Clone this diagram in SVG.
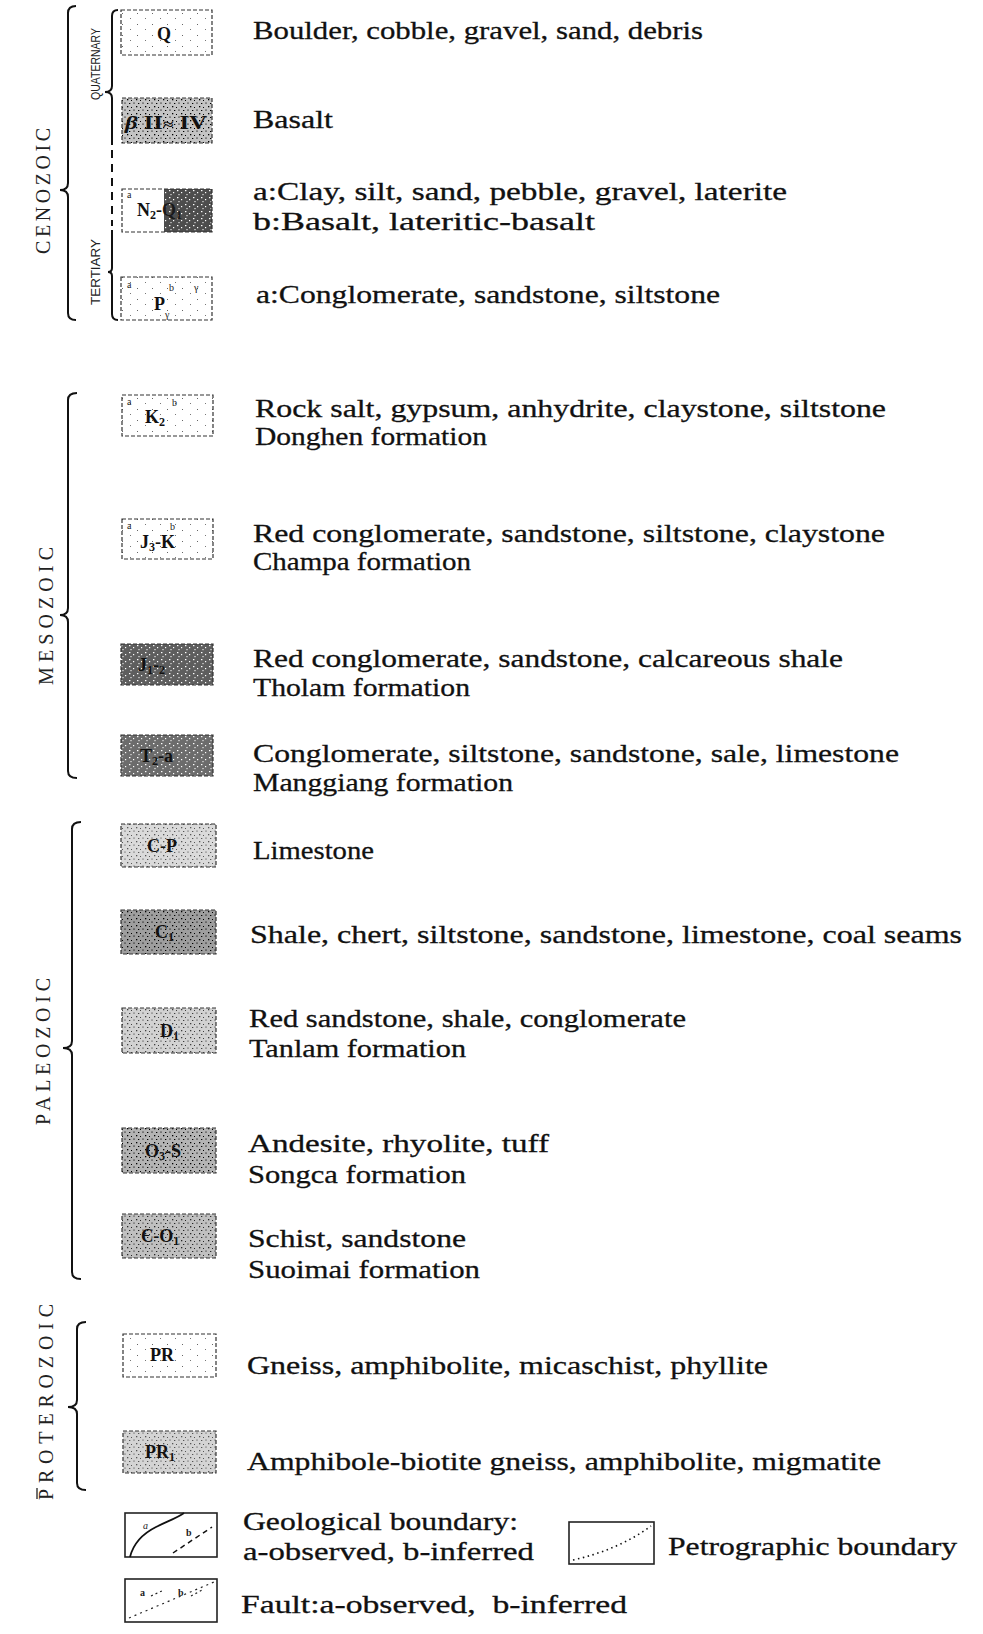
<svg xmlns="http://www.w3.org/2000/svg" width="983" height="1634" viewBox="0 0 983 1634">
<style>
.t{font-family:"Liberation Serif",serif;font-size:26px;fill:#111;stroke:#111;stroke-width:0.3}
.era{font-family:"Liberation Serif",serif;font-size:20px;fill:#222}
.sub{font-family:"Liberation Sans",sans-serif;font-size:12px;fill:#222}
.lab{font-family:"Liberation Serif",serif;font-weight:bold;font-size:18px;fill:#111}
.sm{font-family:"Liberation Serif",serif;font-size:10px;fill:#222}
.bx{fill:none;stroke:#333;stroke-width:1.2;stroke-dasharray:4 2}
.bs{fill:none;stroke:#222;stroke-width:1.6}
.br{fill:none;stroke:#111;stroke-width:2}
</style>
<defs>
<pattern id="dots" width="9" height="7" patternUnits="userSpaceOnUse">
<rect x="1" y="1" width="1.3" height="1.3" fill="#000"/>
<rect x="5" y="2" width="1" height="1" fill="#000"/>
<rect x="3" y="5" width="1.3" height="1" fill="#000"/>
<rect x="7.5" y="4.5" width="1" height="1.2" fill="#000"/>
</pattern>
<pattern id="wdots" width="8" height="7" patternUnits="userSpaceOnUse">
<rect x="1" y="1" width="1.4" height="1.2" fill="#fff"/>
<rect x="5" y="3" width="1.2" height="1.2" fill="#fff"/>
<rect x="2.5" y="5" width="1" height="1.2" fill="#fff"/>
</pattern>
<pattern id="sparse" width="15" height="11" patternUnits="userSpaceOnUse">
<rect x="2" y="2" width="1" height="1" fill="#666"/>
<rect x="10" y="7" width="1" height="1" fill="#777"/>
</pattern>
</defs>

<g id="braces">
<path class="br" d="M76,6 Q68,6 68,13 L68,183 Q68,190 60,190 Q68,190 68,197 L68,313 Q68,320 76,320"/>
<path class="br" d="M118,10 Q112,10 112,16 L112,86 Q112,92 105,92 Q112,92 112,98 L112,145"/>
<path class="br" d="M112,150 L112,226" stroke-dasharray="8 6"/>
<path class="br" d="M112,230 L112,268 Q112,272 108,272 Q112,272 112,276 L112,314 Q112,320 118,320"/>
<path class="br" d="M77,393 Q68,393 68,400 L68,608 Q68,615 60,615 Q68,615 68,622 L68,771 Q68,778 77,778"/>
<path class="br" d="M81,822 Q72,822 72,829 L72,1041 Q72,1048 63,1048 Q72,1048 72,1055 L72,1272 Q72,1279 81,1279"/>
<path class="br" d="M86,1322 Q77,1322 77,1329 L77,1400 Q77,1407 68,1407 Q77,1407 77,1414 L77,1483 Q77,1490 86,1490"/>
</g>

<g id="era-labels">
<text class="era" transform="translate(50,254) rotate(-90)" textLength="126" lengthAdjust="spacing">CENOZOIC</text>
<text class="sub" transform="translate(100,100) rotate(-90)" textLength="72" lengthAdjust="spacingAndGlyphs">QUATERNARY</text>
<text class="sub" transform="translate(100,305) rotate(-90)" textLength="66" lengthAdjust="spacingAndGlyphs">TERTIARY</text>
<text class="era" transform="translate(53,685) rotate(-90)" textLength="138" lengthAdjust="spacing">MESOZOIC</text>
<text class="era" transform="translate(50,1125) rotate(-90)" textLength="147" lengthAdjust="spacing">PALEOZOIC</text>
<text class="era" transform="translate(53,1500) rotate(-90)" textLength="196" lengthAdjust="spacing">PROTEROZOIC</text>
<path d="M37,1488 L37,1499" stroke="#222" stroke-width="1.3"/>
</g>

<g id="n-q">
<rect x="121" y="10" width="91" height="45" fill="url(#sparse)"/>
<rect class="bx" x="121" y="10" width="91" height="45"/>
<text class="lab" x="157" y="40" font-size="19">Q</text>
<text class="t" x="253" y="39" textLength="450" lengthAdjust="spacingAndGlyphs">Boulder, cobble, gravel, sand, debris</text>
</g>

<g id="n-basalt">
<rect x="122" y="98" width="90" height="45" fill="#c4c4c4"/>
<rect x="122" y="98" width="90" height="45" fill="url(#dots)"/>
<rect class="bx" x="122" y="98" width="90" height="45"/>
<text class="lab" x="125" y="129" font-size="19" textLength="82" lengthAdjust="spacingAndGlyphs"><tspan font-style="italic">β</tspan> II<tspan font-size="14">≈</tspan> IV</text>
<text class="t" x="253" y="128" textLength="80" lengthAdjust="spacingAndGlyphs">Basalt</text>
</g>

<g id="n-n2">
<rect x="164" y="189" width="48" height="43" fill="#4d4d4d"/>
<rect x="164" y="189" width="48" height="43" fill="url(#wdots)"/>
<rect class="bx" x="122" y="189" width="90" height="43"/>
<text class="sm" x="127" y="198">a</text>
<text class="lab" x="137" y="216">N<tspan font-size="12" dy="3">2</tspan><tspan dy="-3">-</tspan><tspan fill="#1a1a1a">Q<tspan font-size="12" dy="3">1</tspan></tspan></text>
<text class="t" x="253" y="200" textLength="534" lengthAdjust="spacingAndGlyphs">a:Clay, silt, sand, pebble, gravel, laterite</text>
<text class="t" x="253" y="230" textLength="342" lengthAdjust="spacingAndGlyphs">b:Basalt, lateritic-basalt</text>
</g>

<g id="n-p">
<rect x="121" y="277" width="91" height="43" fill="url(#sparse)"/>
<rect class="bx" x="121" y="277" width="91" height="43"/>
<text class="sm" x="127" y="288">a</text>
<text class="lab" x="154" y="310" font-weight="normal" font-size="21">P</text>
<text class="sm" x="169" y="291">b</text>
<text class="sm" x="194" y="291">γ</text>
<text class="sm" x="165" y="318">γ</text>
<text class="t" x="256" y="303" textLength="464" lengthAdjust="spacingAndGlyphs">a:Conglomerate, sandstone, siltstone</text>
</g>

<g id="n-k2">
<rect x="122" y="395" width="91" height="41" fill="url(#sparse)"/>
<rect class="bx" x="122" y="395" width="91" height="41" stroke="#777"/>
<text class="sm" x="127" y="405">a</text>
<text class="lab" x="145" y="423" font-size="17">K<tspan font-size="12" dy="3">2</tspan></text>
<text class="sm" x="172" y="406">b</text>
<text class="t" x="255" y="417" textLength="631" lengthAdjust="spacingAndGlyphs">Rock salt, gypsum, anhydrite, claystone, siltstone</text>
<text class="t" x="255" y="445" textLength="232" lengthAdjust="spacingAndGlyphs">Donghen formation</text>
</g>

<g id="n-j3k">
<rect x="122" y="519" width="91" height="40" fill="url(#sparse)"/>
<rect class="bx" x="122" y="519" width="91" height="40" stroke="#777"/>
<text class="sm" x="127" y="529">a</text>
<text class="lab" x="140" y="548" font-size="17">J<tspan font-size="12" dy="3">3</tspan><tspan dy="-3">-K</tspan></text>
<text class="sm" x="170" y="530">b</text>
<text class="t" x="253" y="542" textLength="632" lengthAdjust="spacingAndGlyphs">Red conglomerate, sandstone, siltstone, claystone</text>
<text class="t" x="253" y="570" textLength="218" lengthAdjust="spacingAndGlyphs">Champa formation</text>
</g>

<g id="n-j12">
<rect x="121" y="644" width="92" height="41" fill="#5e5e5e"/>
<rect x="121" y="644" width="92" height="41" fill="url(#wdots)"/>
<rect class="bx" x="121" y="644" width="92" height="41"/>
<text class="lab" x="138" y="671" fill="#151515" font-size="17">J<tspan font-size="12" dy="3">1</tspan><tspan dy="-3">-</tspan><tspan font-size="12" dy="3">2</tspan></text>
<text class="t" x="253" y="667" textLength="590" lengthAdjust="spacingAndGlyphs">Red conglomerate, sandstone, calcareous shale</text>
<text class="t" x="253" y="696" textLength="217" lengthAdjust="spacingAndGlyphs">Tholam formation</text>
</g>

<g id="n-t2">
<rect x="121" y="735" width="92" height="41" fill="#6c6c6c"/>
<rect x="121" y="735" width="92" height="41" fill="url(#wdots)"/>
<rect class="bx" x="121" y="735" width="92" height="41"/>
<text class="lab" x="140" y="762" fill="#151515" font-size="17">T<tspan font-size="12" dy="3">2</tspan><tspan dy="-3">-a</tspan></text>
<text class="t" x="253" y="762" textLength="646" lengthAdjust="spacingAndGlyphs">Conglomerate, siltstone, sandstone, sale, limestone</text>
<text class="t" x="253" y="791" textLength="260" lengthAdjust="spacingAndGlyphs">Manggiang formation</text>
</g>

<g id="n-cp">
<rect x="121" y="824" width="95" height="43" fill="#dadada"/>
<rect x="121" y="824" width="95" height="43" fill="url(#dots)" opacity="0.6"/>
<rect class="bx" x="121" y="824" width="95" height="43"/>
<text class="lab" x="147" y="852" font-size="17">C-P</text>
<text class="t" x="253" y="859" textLength="121" lengthAdjust="spacingAndGlyphs">Limestone</text>
</g>

<g id="n-c1">
<rect x="121" y="910" width="95" height="44" fill="#9e9e9e"/>
<rect x="121" y="910" width="95" height="44" fill="url(#dots)"/>
<rect class="bx" x="121" y="910" width="95" height="44"/>
<text class="lab" x="155" y="938" font-size="17">C<tspan font-size="12" dy="3">1</tspan></text>
<text class="t" x="250" y="943" textLength="712" lengthAdjust="spacingAndGlyphs">Shale, chert, siltstone, sandstone, limestone, coal seams</text>
</g>

<g id="n-d1">
<rect x="122" y="1008" width="94" height="45" fill="#d2d2d2"/>
<rect x="122" y="1008" width="94" height="45" fill="url(#dots)" opacity="0.7"/>
<rect class="bx" x="122" y="1008" width="94" height="45"/>
<text class="lab" x="160" y="1037" font-size="17">D<tspan font-size="12" dy="3">1</tspan></text>
<text class="t" x="249" y="1027" textLength="437" lengthAdjust="spacingAndGlyphs">Red sandstone, shale, conglomerate</text>
<text class="t" x="249" y="1057" textLength="217" lengthAdjust="spacingAndGlyphs">Tanlam formation</text>
</g>

<g id="n-o3s">
<rect x="122" y="1128" width="94" height="45" fill="#b4b4b4"/>
<rect x="122" y="1128" width="94" height="45" fill="url(#dots)"/>
<rect class="bx" x="122" y="1128" width="94" height="45"/>
<text class="lab" x="145" y="1157" font-size="17">O<tspan font-size="12" dy="3">3</tspan><tspan dy="-3">-S</tspan></text>
<text class="t" x="248" y="1152" textLength="301" lengthAdjust="spacingAndGlyphs">Andesite, rhyolite, tuff</text>
<text class="t" x="248" y="1183" textLength="218" lengthAdjust="spacingAndGlyphs">Songca formation</text>
</g>

<g id="n-eo1">
<rect x="122" y="1214" width="94" height="44" fill="#c0c0c0"/>
<rect x="122" y="1214" width="94" height="44" fill="url(#dots)" opacity="0.8"/>
<rect class="bx" x="122" y="1214" width="94" height="44"/>
<text class="lab" x="141" y="1242" font-size="17">Є-O<tspan font-size="12" dy="3">1</tspan></text>
<text class="t" x="248" y="1247" textLength="218" lengthAdjust="spacingAndGlyphs">Schist, sandstone</text>
<text class="t" x="248" y="1278" textLength="232" lengthAdjust="spacingAndGlyphs">Suoimai formation</text>
</g>

<g id="n-pr">
<rect x="123" y="1334" width="93" height="43" fill="url(#sparse)"/>
<rect class="bx" x="123" y="1334" width="93" height="43"/>
<text class="lab" x="150" y="1361" font-size="17" font-weight="normal">PR</text>
<text class="t" x="247" y="1374" textLength="521" lengthAdjust="spacingAndGlyphs">Gneiss, amphibolite, micaschist, phyllite</text>
</g>

<g id="n-pr1">
<rect x="123" y="1431" width="93" height="42" fill="#d4d4d4"/>
<rect x="123" y="1431" width="93" height="42" fill="url(#dots)" opacity="0.6"/>
<rect class="bx" x="123" y="1431" width="93" height="42"/>
<text class="lab" x="145" y="1458" font-size="17">PR<tspan font-size="12" dy="3">1</tspan></text>
<text class="t" x="247" y="1470" textLength="634" lengthAdjust="spacingAndGlyphs">Amphibole-biotite gneiss, amphibolite, migmatite</text>
</g>

<g id="legend-geo">
<rect class="bs" x="125" y="1513" width="92" height="44"/>
<path d="M130,1557 C133,1545 142,1534 156,1527 C168,1521 177,1518 184,1513" fill="none" stroke="#111" stroke-width="1.8"/>
<path d="M173,1553 L212,1527" fill="none" stroke="#111" stroke-width="1.5" stroke-dasharray="5 4"/>
<text class="sm" x="143" y="1529" font-style="italic">a</text>
<text class="sm" x="186" y="1536" font-weight="bold">b</text>
<text class="t" x="243" y="1530" textLength="275" lengthAdjust="spacingAndGlyphs">Geological boundary:</text>
<text class="t" x="243" y="1560" textLength="291" lengthAdjust="spacingAndGlyphs">a-observed, b-inferred</text>
</g>

<g id="legend-petro">
<rect class="bs" x="569" y="1522" width="85" height="42"/>
<path d="M573,1560 Q618,1550 651,1526" fill="none" stroke="#111" stroke-width="1.6" stroke-dasharray="1.5 3.5"/>
<text class="t" x="668" y="1555" textLength="289" lengthAdjust="spacingAndGlyphs">Petrographic boundary</text>
</g>

<g id="legend-fault">
<rect class="bs" x="125" y="1579" width="92" height="43"/>
<path d="M129,1618 L214,1582" fill="none" stroke="#222" stroke-width="1.2" stroke-dasharray="2 4"/>
<path d="M151,1596 L164,1590 M191,1596 L204,1589" fill="none" stroke="#222" stroke-width="1.2" stroke-dasharray="2 3"/>
<text class="sm" x="140" y="1596" font-weight="bold">a</text>
<text class="sm" x="178" y="1596" font-weight="bold">b</text>
<text class="t" x="241" y="1613" textLength="386" lengthAdjust="spacingAndGlyphs" style="white-space:pre">Fault:a-observed,  b-inferred</text>
</g>
</svg>
